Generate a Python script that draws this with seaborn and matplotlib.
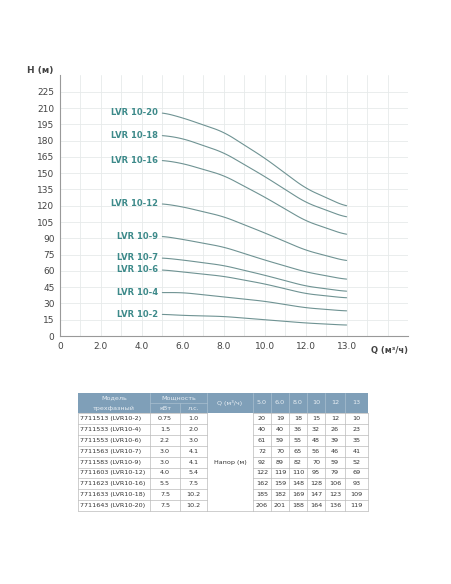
import matplotlib
matplotlib.use('Agg')
import matplotlib.pyplot as plt
import numpy as np
import pandas as pd
import seaborn as sns
from matplotlib.patches import Rectangle

# data
flow = [5.0, 6.0, 8.0, 10.0, 12.0, 13.0]
models = ['LVR 10-2', 'LVR 10-4', 'LVR 10-6', 'LVR 10-7', 'LVR 10-9',
          'LVR 10-12', 'LVR 10-16', 'LVR 10-18', 'LVR 10-20']
codes = ['7711513 (LVR10-2)', '7711533 (LVR10-4)', '7711553 (LVR10-6)', '7711563 (LVR10-7)',
         '7711583 (LVR10-9)', '7711603 (LVR10-12)', '7711623 (LVR10-16)',
         '7711633 (LVR10-18)', '7711643 (LVR10-20)']
kw = ['0.75', '1.5', '2.2', '3.0', '3.0', '4.0', '5.5', '7.5', '7.5']
hp = ['1.0', '2.0', '3.0', '4.1', '4.1', '5.4', '7.5', '10.2', '10.2']
heads = [
    [20, 19, 18, 15, 12, 10],
    [40, 40, 36, 32, 26, 23],
    [61, 59, 55, 48, 39, 35],
    [72, 70, 65, 56, 46, 41],
    [92, 89, 82, 70, 59, 52],
    [122, 119, 110, 95, 79, 69],
    [162, 159, 148, 128, 106, 93],
    [185, 182, 169, 147, 123, 109],
    [206, 201, 188, 164, 136, 119],
]
q_ticks = [0, 2.0, 4.0, 6.0, 8.0, 10.0, 12.0, 13.0]
q_labels = ['0', '2.0', '4.0', '6.0', '8.0', '10.0', '12.0', '13.0']
h_ticks = list(range(0, 226, 15))

W, H = 452, 584
fig = plt.figure(figsize=(W / 100, H / 100), dpi=100)
sns.set_style('white')
line_c = '#6f9393'
lab_c = '#3d8a8a'

# axis positions are evenly spaced per tick, not linear in Q
def qpos(q):
    return np.interp(q, q_ticks, np.arange(len(q_ticks)))

rows = []
for m, h in zip(models, heads):
    for q, v in zip(flow, h):
        rows.append({'model': m, 'pos': float(qpos(q)), 'head': v})
df = pd.DataFrame(rows)

ax = fig.add_axes([60 / W, 1 - 336 / H, 348 / W, 261 / H])
ax.set_xlim(0, 8.5)
ax.set_ylim(0, 240.5)
ax.set_xticks(np.arange(0, 8.6, 0.5), minor=True)
ax.set_yticks(h_ticks)
ax.set_xticks(range(len(q_ticks)))
ax.set_xticklabels(q_labels)
ax.grid(True, which='both', color='#e6eaea', lw=0.6)
ax.set_axisbelow(True)
for m in models:
    sub = df[df.model == m]
    xs = np.linspace(sub.pos.min(), sub.pos.max(), 100)
    ys = np.interp(xs, sub.pos, sub['head'])
    # light smoothing of the polyline
    k = 11
    ys = np.convolve(np.pad(ys, k // 2, mode='edge'), np.ones(k) / k, mode='valid')
    sns.lineplot(x=xs, y=ys, ax=ax, color=line_c, lw=0.8)
    ax.text(sub.pos.min() - 0.1, sub['head'].iloc[0], m, color=lab_c, fontsize=6,
            fontweight='semibold', ha='right', va='center')
for s in ['top', 'right']:
    ax.spines[s].set_visible(False)
for s in ['left', 'bottom']:
    ax.spines[s].set_color('#999999')
    ax.spines[s].set_linewidth(0.8)
ax.tick_params(labelsize=6.5, colors='#444444', length=0, pad=4)
ax.text(-0.02, 1.0, 'H (м)', transform=ax.transAxes, ha='right', va='bottom',
        fontsize=6.5, fontweight='bold', color='#444444')
ax.text(8.5, -13, 'Q (м³/ч)', ha='right', va='center', fontsize=6,
        fontweight='bold', color='#444444')

# table
tax = fig.add_axes([0, 0, 1, 1])
tax.set_xlim(0, W)
tax.set_ylim(H, 0)
tax.axis('off')
cols = [78, 150, 180, 207, 253, 271, 289, 307, 325, 345, 368]
top, hdr_mid, hdr_bot = 393, 403, 413
rh = 10.9
hdr_c = '#7f9fb8'
tax.add_patch(Rectangle((cols[0], top), cols[-1] - cols[0], hdr_bot - top, color=hdr_c, lw=0))
fs = 4.6
tc = '#333333'
hc = '#e8eef3'
tax.text((cols[0] + cols[1]) / 2, (top + hdr_mid) / 2, 'Модель', ha='center', va='center', fontsize=fs, color=hc)
tax.text((cols[0] + cols[1]) / 2, (hdr_mid + hdr_bot) / 2, 'трехфазный', ha='center', va='center', fontsize=fs, color=hc)
tax.text((cols[1] + cols[3]) / 2, (top + hdr_mid) / 2, 'Мощность', ha='center', va='center', fontsize=fs, color=hc)
tax.text((cols[1] + cols[2]) / 2, (hdr_mid + hdr_bot) / 2, 'кВт', ha='center', va='center', fontsize=fs, color=hc)
tax.text((cols[2] + cols[3]) / 2, (hdr_mid + hdr_bot) / 2, 'л.с.', ha='center', va='center', fontsize=fs, color=hc)
tax.text((cols[3] + cols[4]) / 2, (top + hdr_bot) / 2, 'Q (м³/ч)', ha='center', va='center', fontsize=fs, color=hc)
for i, q in enumerate(['5.0', '6.0', '8.0', '10', '12', '13']):
    tax.text((cols[4 + i] + cols[5 + i]) / 2, (top + hdr_bot) / 2, q, ha='center', va='center', fontsize=fs, color=hc)
for c in [cols[1], cols[3]] + cols[4:-1]:
    tax.plot([c, c], [top, hdr_bot], color='#a9bfd0', lw=0.5)
tax.plot([cols[1], cols[3]], [hdr_mid, hdr_mid], color='#a9bfd0', lw=0.5)
tax.plot([cols[2], cols[2]], [hdr_mid, hdr_bot], color='#a9bfd0', lw=0.5)
bot = hdr_bot + rh * len(codes)
grid_c = '#bbbbbb'
for c in cols:
    tax.plot([c, c], [hdr_bot, bot], color=grid_c, lw=0.5)
for r in range(len(codes) + 1):
    y = hdr_bot + r * rh
    tax.plot([cols[0], cols[3]], [y, y], color=grid_c, lw=0.5)
    tax.plot([cols[4], cols[-1]], [y, y], color=grid_c, lw=0.5)
tax.plot([cols[3], cols[4]], [bot, bot], color=grid_c, lw=0.5)
for r in range(len(codes)):
    yc = hdr_bot + (r + 0.5) * rh
    tax.text(cols[0] + 2, yc, codes[r], ha='left', va='center', fontsize=fs, color=tc)
    tax.text((cols[1] + cols[2]) / 2, yc, kw[r], ha='center', va='center', fontsize=fs, color=tc)
    tax.text((cols[2] + cols[3]) / 2, yc, hp[r], ha='center', va='center', fontsize=fs, color=tc)
    for i, v in enumerate(heads[r]):
        tax.text((cols[4 + i] + cols[5 + i]) / 2, yc, str(v), ha='center', va='center', fontsize=fs, color=tc)
tax.text((cols[3] + cols[4]) / 2, hdr_bot + 4.5 * rh, 'Напор (м)', ha='center', va='center', fontsize=fs, color=tc)

fig.savefig('out.png', dpi=100)
